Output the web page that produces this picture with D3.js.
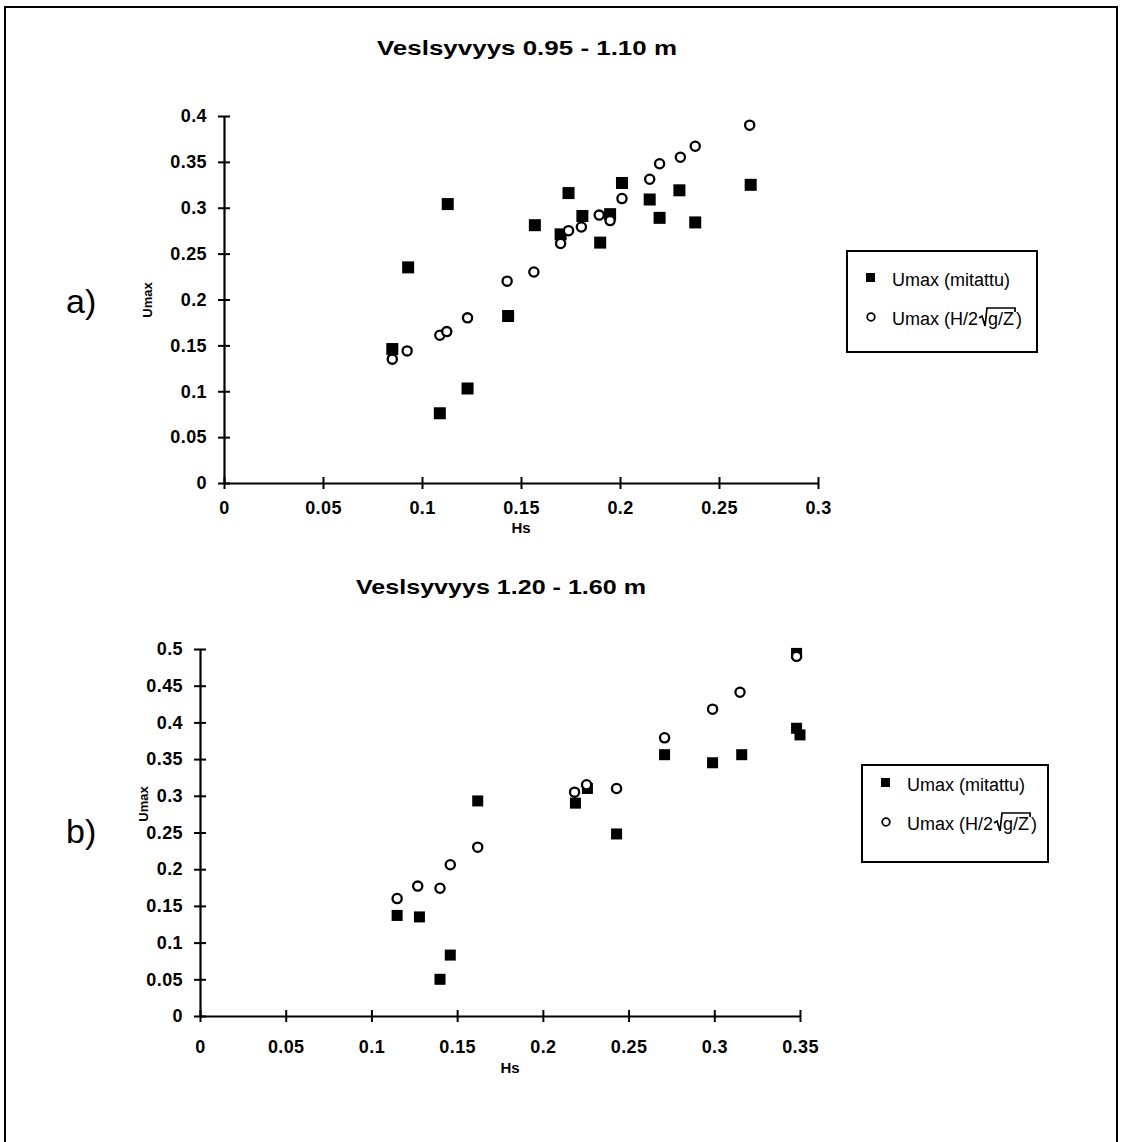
<!DOCTYPE html>
<html>
<head>
<meta charset="utf-8">
<script src="https://cdn.jsdelivr.net/npm/d3@7"></script>
<style>
  body { margin: 0; background: #fff; }
  svg text { font-family: "Liberation Sans", Arial, sans-serif; }
</style>
</head>
<body>
<svg id="fig" width="1121" height="1142"></svg>
<script>
// ---- data : top chart (water depth 0.95 - 1.10 m)
var hsA_meas   = [0.085,0.093,0.109,0.113,0.123,0.1435,0.157,0.170,0.174,0.181,0.190,0.195,0.201,0.215,0.220,0.230,0.238,0.266];
var umaxA_meas = [0.146,0.235,0.076,0.304,0.103,0.182,0.281,0.271,0.316,0.291,0.262,0.293,0.327,0.309,0.289,0.319,0.284,0.325];
var hsA_calc   = [0.085,0.0925,0.109,0.1125,0.123,0.143,0.1565,0.170,0.174,0.1805,0.1895,0.195,0.201,0.215,0.220,0.2305,0.238,0.2655];
var umaxA_calc = [0.135,0.144,0.161,0.165,0.180,0.220,0.230,0.261,0.275,0.279,0.292,0.286,0.310,0.331,0.348,0.355,0.367,0.390];

// ---- data : bottom chart (water depth 1.20 - 1.60 m)
var hsB_meas   = [0.115,0.128,0.140,0.146,0.162,0.219,0.226,0.243,0.271,0.299,0.316,0.348,0.350,0.348];
var umaxB_meas = [0.137,0.135,0.050,0.083,0.293,0.290,0.310,0.248,0.356,0.345,0.356,0.392,0.383,0.494];
var hsB_calc   = [0.115,0.127,0.140,0.146,0.162,0.2185,0.2255,0.243,0.271,0.299,0.315,0.348];
var umaxB_calc = [0.160,0.177,0.174,0.206,0.230,0.305,0.315,0.310,0.379,0.418,0.441,0.490];

var xTicksA = [0,0.05,0.1,0.15,0.2,0.25,0.3];
var yTicksA = [0,0.05,0.1,0.15,0.2,0.25,0.3,0.35,0.4];
var xTicksB = [0,0.05,0.1,0.15,0.2,0.25,0.3,0.35];
var yTicksB = [0,0.05,0.1,0.15,0.2,0.25,0.3,0.35,0.4,0.45,0.5];

var legendLabels = ["Umax (mitattu)", "Umax (H/2", "g/Z", ")"];

var svg = d3.select("#fig");

// outer frame of the scanned page
svg.append("rect").attr("x",5).attr("y",7).attr("width",1112).attr("height",1150)
   .attr("fill","none").attr("stroke","#000").attr("stroke-width",2);

var fmt = function(d){ return d===0 ? "0" : String(+d.toFixed(2)); };

function drawChart(cfg){
  var g = svg.append("g");
  var x = d3.scaleLinear().domain(cfg.xDom).range([cfg.left, cfg.right]);
  var y = d3.scaleLinear().domain(cfg.yDom).range([cfg.bottom, cfg.top]);

  // title (scan is a bit stretched, so force its width)
  g.append("text").attr("x",cfg.titleX).attr("y",cfg.titleY).attr("text-anchor","middle")
   .attr("font-size",21).attr("font-weight","bold")
   .attr("textLength",cfg.titleW).attr("lengthAdjust","spacingAndGlyphs").text(cfg.title);

  // y axis
  var ya = g.append("g").attr("transform","translate("+cfg.left+",0)")
    .call(d3.axisLeft(y).tickValues(cfg.yTicks).tickFormat(fmt).tickSizeInner(6).tickSizeOuter(0).tickPadding(11));
  ya.selectAll(".tick line").attr("x1",6);
  // x axis
  var xa = g.append("g").attr("transform","translate(0,"+cfg.bottom+")")
    .call(d3.axisBottom(x).tickValues(cfg.xTicks).tickFormat(fmt).tickSizeInner(6).tickSizeOuter(0).tickPadding(cfg.xPad));
  xa.selectAll(".tick line").attr("y1",-6);
  [ya,xa].forEach(function(a){
    a.select(".domain").attr("stroke-width",2.2);
    a.selectAll(".tick line").attr("stroke-width",2);
    a.selectAll(".tick text").attr("font-size",18).attr("font-weight","bold")
      .attr("letter-spacing","0.4px")
      .attr("font-family","'Liberation Sans', Arial, sans-serif").attr("fill","#000");
  });

  // axis titles
  g.append("text").attr("transform","translate("+cfg.yLabX+","+cfg.yLabY+") rotate(-90)")
   .attr("text-anchor","middle").attr("font-size",13).attr("font-weight","bold").text("Umax");
  g.append("text").attr("x",cfg.xLabX).attr("y",cfg.xLabY).attr("text-anchor","middle")
   .attr("font-size",15).attr("font-weight","bold").text("Hs");

  // panel letter
  g.append("text").attr("x",66).attr("y",cfg.letterY).attr("font-size",34)
   .attr("font-family","'Liberation Serif', 'Times New Roman', serif").text(cfg.letter);

  // measured: filled squares
  var s = cfg.sq;
  g.selectAll("rect.meas").data(d3.range(cfg.xm.length)).enter().append("rect")
   .attr("class","meas")
   .attr("x",function(i){ return x(cfg.xm[i]) - s/2; })
   .attr("y",function(i){ return y(cfg.ym[i]) - s/2; })
   .attr("width",s).attr("height",s).attr("fill","#000");
  // calculated: open circles
  g.selectAll("circle.calc").data(d3.range(cfg.xc.length)).enter().append("circle")
   .attr("class","calc")
   .attr("cx",function(i){ return x(cfg.xc[i]); })
   .attr("cy",function(i){ return y(cfg.yc[i]); })
   .attr("r",cfg.r).attr("fill","#fff").attr("stroke","#000").attr("stroke-width",2.3);

  // legend
  var L = cfg.leg;
  g.append("rect").attr("x",L.x).attr("y",L.y).attr("width",L.w).attr("height",L.h)
   .attr("fill","#fff").attr("stroke","#000").attr("stroke-width",2);
  g.append("rect").attr("x",L.x+19).attr("y",L.y+L.row1-13).attr("width",9).attr("height",9).attr("fill","#000");
  g.append("text").attr("x",L.x+45).attr("y",L.y+L.row1).attr("font-size",18).text(legendLabels[0]);
  g.append("circle").attr("cx",L.x+24).attr("cy",L.y+L.row2-8).attr("r",3.8)
   .attr("fill","#fff").attr("stroke","#000").attr("stroke-width",1.8);
  var t1 = g.append("text").attr("x",L.x+45).attr("y",L.y+L.row2).attr("font-size",18).text(legendLabels[1]);
  var x1 = L.x + 45 + t1.node().getComputedTextLength();
  var rx = x1 + 1, ry = L.y + L.row2;
  var t2 = g.append("text").attr("x",rx+9).attr("y",ry).attr("font-size",18).text(legendLabels[2]);
  var w2 = t2.node().getComputedTextLength();
  g.append("path")
   .attr("d","M"+rx+","+(ry-7)+" L"+(rx+3)+","+(ry-9)+" L"+(rx+6)+","+(ry+1)+" L"+(rx+8)+","+(ry-17)+" L"+(rx+10+w2)+","+(ry-17)+" L"+(rx+10+w2)+","+(ry-13))
   .attr("fill","none").attr("stroke","#000").attr("stroke-width",1.7);
  g.append("text").attr("x",rx+11+w2).attr("y",ry).attr("font-size",18).text(legendLabels[3]);
}

drawChart({
  title:"Veslsyvyys 0.95 - 1.10 m", titleX:527, titleY:55, titleW:300,
  xDom:[0,0.3], yDom:[0,0.4], left:224, right:818, top:116, bottom:483,
  xTicks:xTicksA, yTicks:yTicksA, xPad:12,
  yLabX:152, yLabY:300, xLabX:521, xLabY:533, letter:"a)", letterY:313,
  xm:hsA_meas, ym:umaxA_meas, xc:hsA_calc, yc:umaxA_calc, sq:12, r:4.6,
  leg:{x:847, y:251, w:190, h:101, row1:35, row2:74}
});

drawChart({
  title:"Veslsyvyys 1.20 - 1.60 m", titleX:501, titleY:594, titleW:290,
  xDom:[0,0.35], yDom:[0,0.5], left:200, right:800, top:649, bottom:1016,
  xTicks:xTicksB, yTicks:yTicksB, xPad:18,
  yLabX:148, yLabY:804, xLabX:510, xLabY:1073, letter:"b)", letterY:843,
  xm:hsB_meas, ym:umaxB_meas, xc:hsB_calc, yc:umaxB_calc, sq:11, r:4.6,
  leg:{x:862, y:765, w:186, h:97, row1:26, row2:65}
});
</script>
</body>
</html>
